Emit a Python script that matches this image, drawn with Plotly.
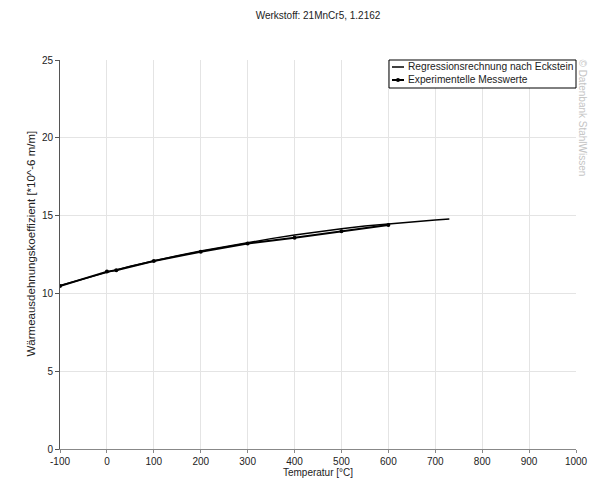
import plotly.graph_objects as go

# Regression curve (Eckstein)
reg_temp = [-100, -50, 0, 50, 100, 150, 200, 250, 300, 350, 400, 450, 500, 550, 600, 650, 700, 730]
reg_alpha = [10.5, 10.95, 11.35, 11.75, 12.1, 12.42, 12.72, 13.0, 13.27, 13.52, 13.75, 13.96, 14.16,
             14.33, 14.47, 14.6, 14.72, 14.78]

# Experimental measurements
exp_temp = [-100, 0, 20, 100, 200, 300, 400, 500, 600]
exp_alpha = [10.48, 11.4, 11.49, 12.08, 12.68, 13.2, 13.58, 13.99, 14.4]

# axis ticks (plain hyphen for negative like the original)
x_ticks = [-100, 0, 100, 200, 300, 400, 500, 600, 700, 800, 900, 1000]
x_labels = ['-100', '0', '100', '200', '300', '400', '500', '600', '700', '800', '900', '1000']

reg_name = 'Regressionsrechnung nach Eckstein'
exp_name = 'Experimentelle Messwerte'

font = "Liberation Sans, Arial, sans-serif"
txt = '#222'
fs = 10

fig = go.Figure()

fig.add_trace(go.Scatter(
    x=reg_temp, y=reg_alpha, mode='lines',
    line=dict(color='black', width=1.5),
    name=reg_name, showlegend=False
))

fig.add_trace(go.Scatter(
    x=exp_temp, y=exp_alpha, mode='lines+markers',
    line=dict(color='black', width=2),
    marker=dict(color='black', size=4, symbol='circle'),
    name=exp_name, showlegend=False
))

# plot area is 516 x 389 px; helpers to place things in window pixels
PW, PH = 516, 389


def px(x):
    return (x - 60) / PW


def py(y):
    return (449 - y) / PH


# compact legend box like the original
shapes = [
    dict(type='rect', xref='paper', yref='paper', x0=px(389), x1=1.0, y0=py(88), y1=py(60),
         line=dict(color='black', width=1), fillcolor='white', layer='above'),
    dict(type='line', xref='paper', yref='paper', x0=px(392), x1=px(404), y0=py(67), y1=py(67),
         line=dict(color='black', width=1.5), layer='above'),
    dict(type='line', xref='paper', yref='paper', x0=px(392), x1=px(404), y0=py(80), y1=py(80),
         line=dict(color='black', width=2), layer='above'),
    dict(type='circle', xref='paper', yref='paper', x0=px(396), x1=px(400), y0=py(82), y1=py(78),
         line=dict(color='black', width=0), fillcolor='black', layer='above'),
]

# page body has an 8px margin, so offsets are reduced accordingly
fig.update_layout(
    width=605, height=489,
    margin=dict(l=52, r=37, t=52, b=48),
    paper_bgcolor='white', plot_bgcolor='white',
    font=dict(family=font, size=fs, color=txt),
    title=dict(text='Werkstoff: 21MnCr5, 1.2162', xref='paper', x=0.5, xanchor='center',
               y=0.984, yanchor='middle', font=dict(size=fs, color=txt)),
    showlegend=False,
    shapes=shapes,
)

for name, yy in [(reg_name, 67), (exp_name, 80)]:
    fig.add_annotation(text=name, xref='paper', yref='paper', x=px(406), y=py(yy),
                       xanchor='left', yanchor='middle', showarrow=False,
                       font=dict(size=10.2, color=txt, family=font))

fig.update_xaxes(
    range=[-100, 1000], tickvals=x_ticks, ticktext=x_labels,
    tickfont=dict(color=txt, size=fs),
    showgrid=True, gridcolor='#e4e4e4', gridwidth=1,
    showline=True, linecolor='#888', linewidth=1,
    ticks='outside', ticklen=3, tickcolor='#888',
    zeroline=False,
    title=dict(text='Temperatur [°C]', standoff=0, font=dict(size=fs, color=txt)),
)
fig.update_yaxes(
    range=[0, 25], dtick=5,
    tickfont=dict(color=txt, size=fs),
    showgrid=True, gridcolor='#e4e4e4', gridwidth=1,
    showline=True, linecolor='#555', linewidth=1,
    ticks='outside', ticklen=4, tickcolor='#555',
    zeroline=False,
)

# y axis title, placed like the original (slightly above centre)
fig.add_annotation(
    text='Wärmeausdehnungskoeffizient [*10^-6 m/m]', xref='paper', yref='paper',
    x=px(30.5), y=py(244), xanchor='center', yanchor='middle',
    textangle=-90, showarrow=False,
    font=dict(size=11.5, color=txt, family=font),
)

# vertical watermark on the right
fig.add_annotation(
    text='© Datenbank StahlWissen', xref='paper', yref='paper',
    x=px(582), y=py(57), xanchor='center', yanchor='top',
    textangle=90, showarrow=False,
    font=dict(size=fs, color='#c4c4c4', family=font),
)

fig.write_html("out.html")
